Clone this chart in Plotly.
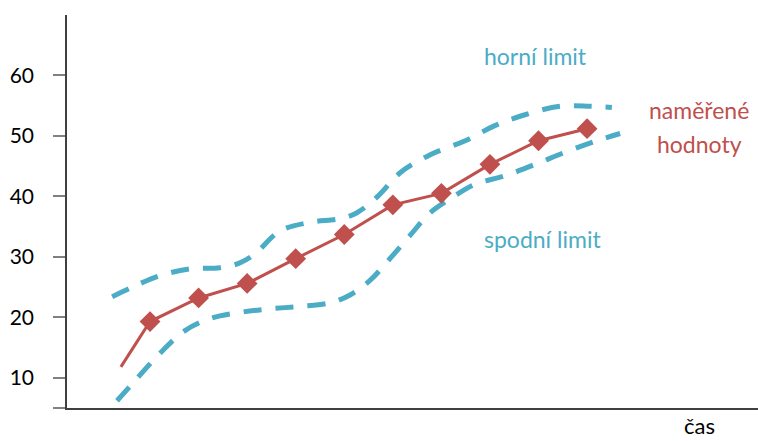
import plotly.graph_objects as go

# measured values (time steps) and their upper / lower tolerance bands
meas_x = [0.4, 1, 2, 3, 4, 5, 6, 7, 8, 9, 10]
meas_y = [11.8, 19.3, 23.2, 25.6, 29.7, 33.7, 38.6, 40.5, 45.3, 49.2, 51.2]

upper_x = [0.22, 0.69, 1.21, 1.82, 2.44, 2.85, 3.16, 3.68, 4.29, 4.91, 5.26, 5.70,
           6.15, 6.77, 7.49, 8.10, 8.72, 9.44, 10.06, 10.51]
upper_y = [23.4, 25.2, 26.9, 28.0, 28.2, 29.0, 30.5, 34.3, 35.7, 36.3, 37.3, 40.1,
           43.9, 46.9, 49.2, 51.7, 53.5, 54.9, 54.9, 54.7]

lower_x = [0.32, 0.69, 1.21, 1.72, 2.24, 2.85, 3.47, 4.09, 4.71, 5.12, 5.53, 5.94,
           6.35, 6.77, 7.18, 7.69, 8.31, 8.93, 9.55, 10.16, 10.68]
lower_y = [6.2, 9.5, 14.1, 17.8, 19.8, 20.8, 21.4, 21.8, 22.4, 23.7, 26.1, 29.7,
           33.5, 37.3, 39.6, 42.0, 43.4, 45.3, 47.3, 49.1, 50.4]

y_ticks = [5, 10, 20, 30, 40, 50, 60]
y_tick_text = ["", "10", "20", "30", "40", "50", "60"]

RED = "#C0504D"
BLUE = "#4BACC6"
FONT = "Lato"

fig = go.Figure()

for bx, by in ((upper_x, upper_y), (lower_x, lower_y)):
    fig.add_trace(go.Scatter(
        x=bx, y=by, mode="lines",
        line=dict(color=BLUE, width=5, dash="18px,14px", shape="spline", smoothing=1.0),
        hoverinfo="skip",
    ))

fig.add_trace(go.Scatter(
    x=meas_x, y=meas_y, mode="lines+markers",
    line=dict(color=RED, width=3),
    marker=dict(symbol="diamond", size=[0] + [16] * (len(meas_x) - 1), color=RED,
                opacity=1, line=dict(width=0)),
))


def label(x, y, text, color, xref="x", yref="y", yanchor="middle", size=23):
    return dict(x=x, y=y, xref=xref, yref=yref, text=text, showarrow=False,
                xanchor="center", yanchor=yanchor, borderpad=0,
                font=dict(family=FONT, size=size, color=color))


fig.update_layout(
    width=758, height=441,
    margin=dict(l=67, r=0, t=15, b=33),
    paper_bgcolor="white", plot_bgcolor="white",
    showlegend=False,
    font=dict(family=FONT, size=21, color="black"),
    xaxis=dict(
        range=[-0.71, 13.52], showgrid=False, zeroline=False,
        showticklabels=False, ticks="",
        showline=True, linecolor="#404040", linewidth=1.5,
    ),
    yaxis=dict(
        range=[5, 70], showgrid=False, zeroline=False,
        tickvals=y_ticks, ticktext=y_tick_text,
        ticks="outside", ticklen=12, tickwidth=1.5, tickcolor="#808080",
        ticklabelstandoff=15,
        showline=True, linecolor="#404040", linewidth=1.5,
        tickfont=dict(family=FONT, size=21, color="black"),
    ),
    annotations=[
        label(8.93, 63.3, "horní limit", BLUE),
        label(9.09, 33.0, "spodní limit", BLUE),
        label(12.31, 54.3, "naměřené", RED),
        label(12.31, 48.6, "hodnoty", RED),
        label(0.915, -0.081, "čas", "black", xref="paper", yref="paper",
              yanchor="bottom", size=22),
    ],
)

fig.write_html("out.html")
